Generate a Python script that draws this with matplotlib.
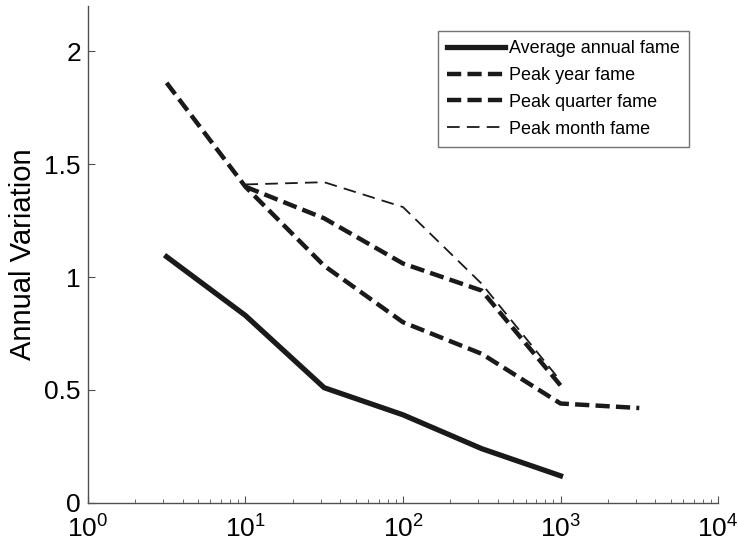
import numpy as np
import matplotlib
matplotlib.use('Agg')
import matplotlib.pyplot as plt

plt.rcParams['font.family'] = ['Liberation Sans', 'DejaVu Sans']
plt.rcParams['mathtext.fontset'] = 'custom'
plt.rcParams['mathtext.rm'] = 'Liberation Sans'
plt.rcParams['mathtext.it'] = 'Liberation Sans'

# data
x_avg = [10**0.5, 10**1, 10**1.5, 10**2, 10**2.5, 10**3]
avg_annual = [1.09, 0.83, 0.51, 0.39, 0.24, 0.12]

x_year = [10**0.5, 10**1, 10**1.5, 10**2, 10**2.5, 10**3, 10**3.5]
peak_year = [1.86, 1.40, 1.05, 0.80, 0.66, 0.44, 0.42]

x_quarter = [10**1, 10**1.5, 10**2, 10**2.5, 10**3]
peak_quarter = [1.40, 1.26, 1.06, 0.94, 0.52]

x_month = [10**1, 10**1.5, 10**2, 10**2.5, 10**3]
peak_month = [1.41, 1.42, 1.31, 0.97, 0.54]

fig = plt.figure(figsize=(7.38, 5.49), dpi=100)
ax = fig.add_axes([0.119, 0.084, 0.854, 0.905])

c = '#1a1a1a'
ax.plot(x_avg, avg_annual, '-', color=c, lw=3.8, label='Average annual fame')
ax.plot(x_year, peak_year, color=c, lw=3.2, linestyle=(0, (3.2, 1.4)), label='Peak year fame')
ax.plot(x_quarter, peak_quarter, color=c, lw=3.2, linestyle=(0, (3.2, 1.4)), label='Peak quarter fame')
ax.plot(x_month, peak_month, color=c, lw=1.3, linestyle=(0, (7, 4)), label='Peak month fame')

ax.set_xscale('log')
ax.set_xlim(1, 1e4)
ax.set_ylim(0, 2.2)
ax.set_yticks([0, 0.5, 1, 1.5, 2])
ax.set_yticklabels(['0', '0.5', '1', '1.5', '2'])
ax.set_ylabel('Annual Variation', fontsize=21, labelpad=5)

for s in ['top', 'right']:
    ax.spines[s].set_visible(False)
for s in ['left', 'bottom']:
    ax.spines[s].set_color('#505050')
    ax.spines[s].set_linewidth(1.0)
ax.tick_params(axis='both', which='major', direction='in', length=5, color='#505050',
               labelsize=19, pad=5)
ax.tick_params(axis='x', which='major', pad=9)
ax.tick_params(axis='x', which='minor', direction='in', length=3, color='#505050')
ax.tick_params(axis='y', which='minor', left=False)

leg = ax.legend(loc='upper right', bbox_to_anchor=(0.954, 0.950), borderaxespad=0,
                fontsize=13, frameon=True, fancybox=False, edgecolor='#505050',
                handlelength=3.2, handletextpad=0.25, borderpad=0.5, labelspacing=0.55)
leg.get_frame().set_linewidth(1.0)

fig.savefig('out.png', dpi=100)
